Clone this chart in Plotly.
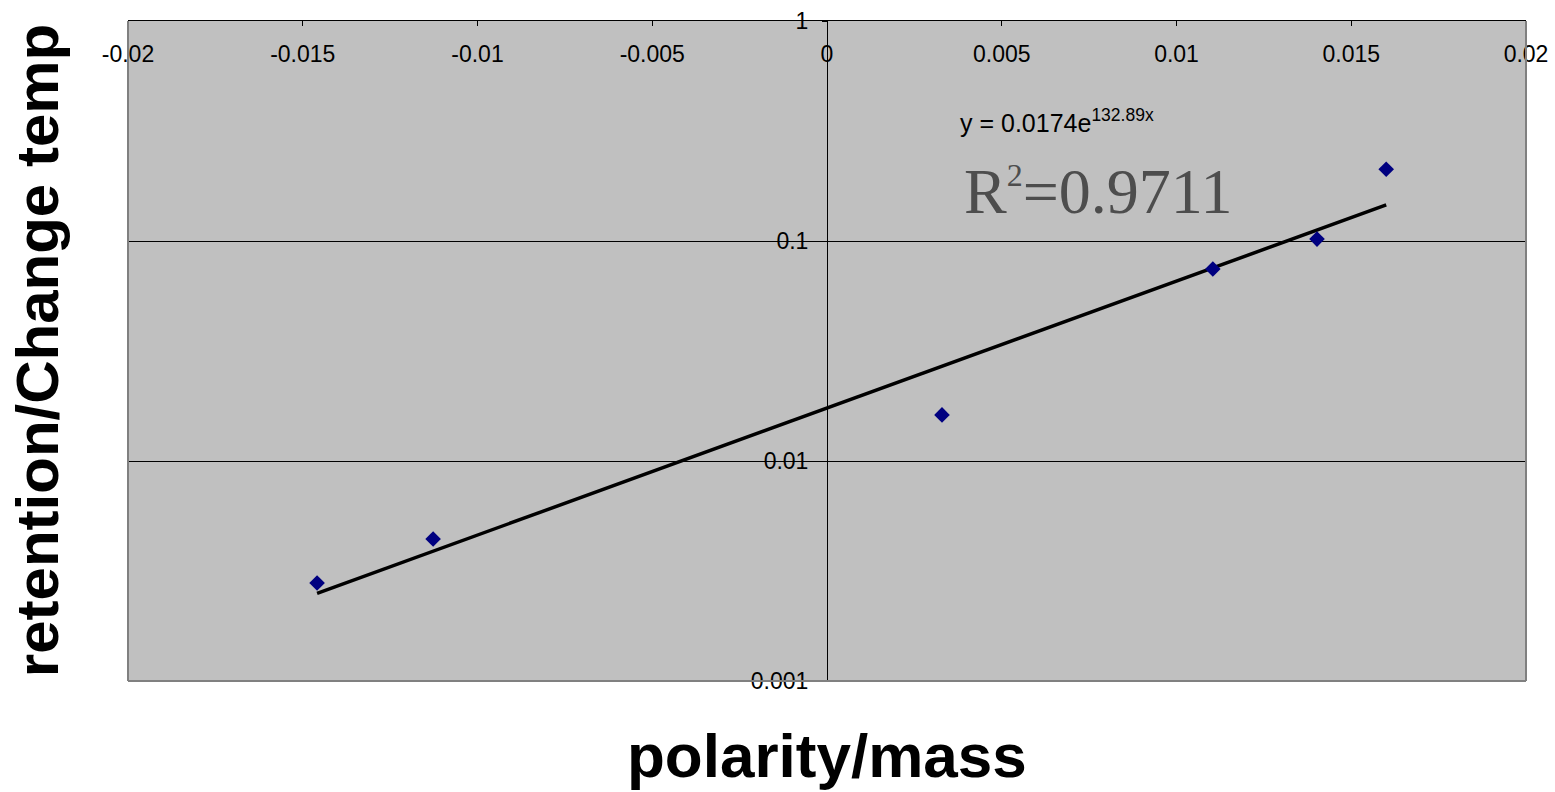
import math
import plotly.graph_objects as go

# ---- data ----
polarity_mass = [-0.01459, -0.01127, 0.00329, 0.01104, 0.01402, 0.0160]
retention = [0.00279, 0.00442, 0.0162, 0.0746, 0.102, 0.212]

trend_a = 0.0174
trend_b = 132.89
r_squared = "0.9711"

x_tickvals = [-0.02, -0.015, -0.01, -0.005, 0, 0.005, 0.01, 0.015, 0.02]
x_ticktext = ["-0.02", "-0.015", "-0.01", "-0.005", "0", "0.005", "0.01", "0.015", "0.02"]
y_tickvals = [0.001, 0.01, 0.1, 1]
y_ticktext = ["0.001", "0.01", "0.1", "1"]

x_title = "polarity/mass"
y_title = "retention/Change temp"

# ---- trendline: exponential fit -> straight on log axis, two ends suffice ----
tx = [min(polarity_mass), max(polarity_mass)]
ty = [trend_a * math.exp(trend_b * v) for v in tx]

fig = go.Figure()
fig.add_trace(go.Scatter(x=tx, y=ty, mode="lines",
                         line=dict(color="black", width=3.5), hoverinfo="skip"))
fig.add_trace(go.Scatter(x=polarity_mass, y=retention, mode="markers",
                         marker=dict(symbol="diamond", size=12, color="#000080",
                                     line=dict(width=0))))

W, H = 1555, 792
L, R, T, B = 128, 29, 21, 111

fig.update_layout(
    template="none",
    width=W, height=H,
    margin=dict(l=L, r=R, t=T, b=B, pad=0, autoexpand=False),
    paper_bgcolor="white",
    plot_bgcolor="#C0C0C0",
    showlegend=False,
    font=dict(family="Liberation Sans, Arial, sans-serif", color="black"),
    xaxis=dict(
        range=[-0.02, 0.02], side="top", automargin=False,
        tickmode="array", tickvals=x_tickvals, ticktext=x_ticktext,
        ticks="inside", ticklen=5, tickcolor="black", tickwidth=1,
        ticklabelposition="inside", ticklabeloverflow="allow",
        ticklabelstandoff=22,
        tickfont=dict(size=23, color="black"),
        showline=True, linecolor="black", linewidth=1,
        showgrid=False, zeroline=False, fixedrange=True,
    ),
    yaxis=dict(
        type="log", range=[-3, 0], automargin=False,
        anchor="free", position=0.5,
        tickmode="array", tickvals=y_tickvals, ticktext=y_ticktext,
        ticks="outside", ticklen=5, tickcolor="black", tickwidth=1,
        ticklabelstandoff=9,
        tickfont=dict(size=23, color="black"),
        showline=True, linecolor="black", linewidth=1,
        showgrid=True, gridcolor="black", gridwidth=1,
        zeroline=False, fixedrange=True,
    ),
)

# gray plot-area border (left, right, bottom)
border = dict(color="#808080", width=2)
fig.add_shape(type="line", xref="paper", yref="paper", x0=0, x1=0, y0=0, y1=1, line=border, layer="above")
fig.add_shape(type="line", xref="paper", yref="paper", x0=1, x1=1, y0=0, y1=1, line=border, layer="above")
fig.add_shape(type="line", xref="paper", yref="paper", x0=0, x1=1, y0=0, y1=0, line=border, layer="above")

# trendline equation and R^2
fig.add_annotation(
    x=0.00375, y=-0.4545, xref="x", yref="y",
    text=f"y = {trend_a}e<sup>{trend_b}x</sup>",
    showarrow=False, xanchor="left", yanchor="middle",
    font=dict(size=25, color="black", family="Liberation Sans, Arial, sans-serif"),
)
fig.add_annotation(
    x=0.00386, y=-0.777, xref="x", yref="y",
    text=f"R<sup><span style='font-size:32px'>2</span></sup>={r_squared}",
    showarrow=False, xanchor="left", yanchor="middle",
    font=dict(size=64, color="#4d4d4d", family="Liberation Serif, Times New Roman, serif"),
)

# axis titles
fig.add_annotation(
    x=0.5, y=-0.1136, xref="paper", yref="paper",
    text=f"<b>{x_title}</b>", showarrow=False,
    xanchor="center", yanchor="middle",
    font=dict(size=62, color="black"),
)
fig.add_annotation(
    x=-0.065, y=0.5, xref="paper", yref="paper",
    text=f"<b>{y_title}</b>", showarrow=False, textangle=-90,
    xanchor="center", yanchor="middle",
    font=dict(size=60, color="black"),
)

fig.write_html("out.html", config={"displayModeBar": False})
